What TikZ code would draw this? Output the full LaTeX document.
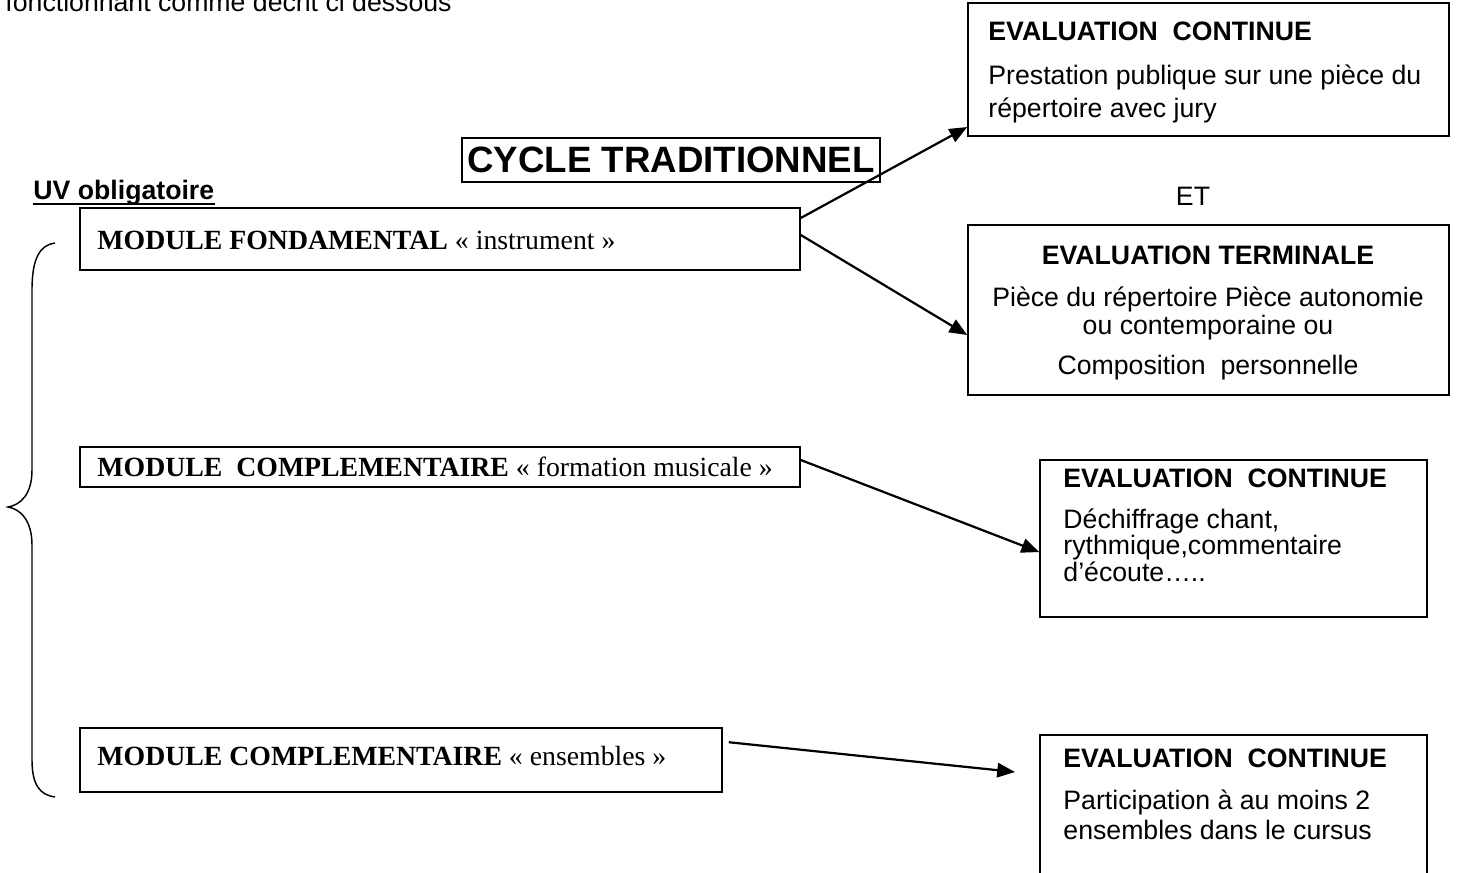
\documentclass[tikz,border=0pt]{standalone}
\usepackage{fontspec}
\setmainfont{Liberation Serif}
\newfontfamily\arial{Liberation Sans}
\usetikzlibrary{arrows.meta,fit}
\begin{document}
\begin{tikzpicture}[x=0.45pt,y=-0.45pt,
  box/.style={draw,line width=0.7pt,inner sep=0pt},
  ar/.style={font=\arial\fontsize{12}{14}\selectfont,inner sep=0pt,anchor=base west},
  arc/.style={font=\arial\fontsize{12}{14}\selectfont,inner sep=0pt,anchor=base},
  arb/.style={font=\arial\bfseries\fontsize{12}{14}\selectfont,inner sep=0pt,anchor=base west},
  mod/.style={font=\fontsize{12.5}{14}\selectfont,inner sep=0pt,anchor=base west},
  conn/.style={line width=1pt,-{Triangle[length=8pt,width=6.5pt]}},
  brace/.style={line width=0.65pt}
]
\useasboundingbox (0,0) rectangle (1459,872);
\clip (0,0) rectangle (1459,872);

% top cut text
\node[ar] (top) at (5,12) {fonctionnant comme décrit ci dessous};

% title
\node[box,fit={(462,138) (880,182)}] (titlebox) {};
\node[font=\arial\bfseries\fontsize{16.5}{18}\selectfont,inner sep=0pt] (title) at (titlebox.center) {CYCLE TRADITIONNEL};

% UV obligatoire
\node[arb] (uv) at (33,199) {UV obligatoire};
\draw[line width=0.9pt] ([yshift=-2.2pt]uv.base west) -- ([yshift=-2.2pt]uv.base east);

% evaluation continue 1
\node[box,fit={(968,3) (1449,136)}] (ec1) {};
\node[arb] (ec1t) at (988,41) {EVALUATION\ \ CONTINUE};
\node[ar] (ec1a) at (988,85) {Prestation publique sur une pièce du};
\node[ar] (ec1b) at (988,117) {répertoire avec jury};

% ET
\node[font=\arial\fontsize{12}{14}\selectfont,inner sep=0pt] (et) at (1193,196) {ET};

% evaluation terminale
\node[box,fit={(968,225) (1449,395)}] (term) {};
\node[arc,font=\arial\bfseries\fontsize{12}{14}\selectfont] (termt) at (1208,264) {EVALUATION TERMINALE};
\node[arc] (terma) at (1208,306) {Pièce du répertoire Pièce autonomie};
\node[arc] (termb) at (1208,334) {ou contemporaine ou};
\node[arc] (termc) at (1208,374) {Composition\ \ personnelle};

% modules
\node[box,fit={(80,208) (800,270)}] (mf) {};
\node[mod] (mft) at (97,249) {\textbf{MODULE FONDAMENTAL} « instrument »};

\node[box,fit={(80,447) (800,487)}] (mc) {};
\node[mod] (mct) at (97,476) {\textbf{MODULE\ \ COMPLEMENTAIRE} « formation musicale »};

\node[box,fit={(80,728) (722,792)}] (me) {};
\node[mod] (met) at (97,765) {\textbf{MODULE COMPLEMENTAIRE} « ensembles »};

% evaluation continue 2
\node[box,fit={(1040,460) (1427,617)}] (ec2) {};
\node[arb] (ec2t) at (1063,487) {EVALUATION\ \ CONTINUE};
\node[ar] (ec2a) at (1063,528) {Déchiffrage chant,};
\node[ar] (ec2b) at (1063,554) {rythmique,commentaire};
\node[ar] (ec2c) at (1063,581) {d’écoute…..};

% evaluation continue 3
\node[box,fit={(1040,735) (1427,900)}] (ec3) {};
\node[arb] (ec3t) at (1063,767) {EVALUATION\ \ CONTINUE};
\node[ar] (ec3a) at (1063,809) {Participation à au moins 2};
\node[ar] (ec3b) at (1063,839) {ensembles dans le cursus};

% connectors
\draw[conn] ([yshift=9.45pt]mf.east) -- ([yshift=-25.9pt]ec1.west);
\draw[conn] ([yshift=1.8pt]mf.east) -- ([yshift=-11.25pt]term.west);
\draw[conn] ([yshift=3.15pt]mc.east) -- ([yshift=-6.1pt]ec2.west);
\coordinate (ec3in) at (1015,772);
\draw[conn] ([xshift=2.7pt,yshift=8pt]me.east) -- (ec3in);

% brace
\draw[brace] (55,243) .. controls (40,245) and (32,258) .. (32,290) -- (32,470)
  .. controls (32,495) and (20,505) .. (8,507)
  .. controls (20,509) and (32,520) .. (32,545) -- (32,760)
  .. controls (32,785) and (40,795) .. (55,797);
\end{tikzpicture}
\end{document}
